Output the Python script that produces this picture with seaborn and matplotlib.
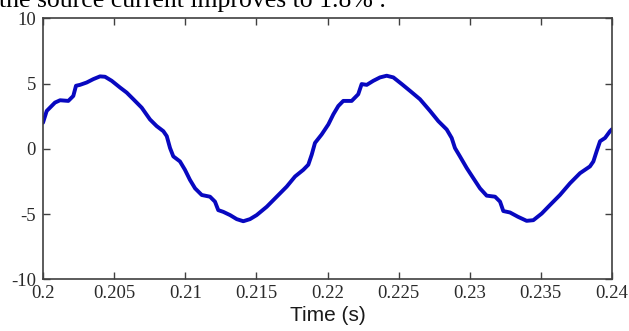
import matplotlib
matplotlib.use("Agg")
import matplotlib.pyplot as plt
import seaborn as sns
import pandas as pd

# Data (time in s, current in A)
time_s = [0.20000, 0.20026, 0.20084, 0.20120, 0.20178, 0.20213, 0.20232, 0.20260,
          0.20307, 0.20354, 0.20401, 0.20436, 0.20483, 0.20541, 0.20588, 0.20635,
          0.20694, 0.20752, 0.20799, 0.20846, 0.20870, 0.20893, 0.20916, 0.20963,
          0.20998, 0.21033, 0.21069, 0.21116, 0.21174, 0.21209, 0.21232, 0.21267,
          0.21315, 0.21362, 0.21408, 0.21455, 0.21502, 0.21573, 0.21643, 0.21713,
          0.21772, 0.21830, 0.21865, 0.21889, 0.21912, 0.21959, 0.22006, 0.22041,
          0.22076, 0.22111, 0.22170, 0.22216, 0.22240, 0.22276, 0.22322, 0.22369,
          0.22416, 0.22463, 0.22522, 0.22580, 0.22650, 0.22721, 0.22779, 0.22838,
          0.22873, 0.22896, 0.22931, 0.22979, 0.23025, 0.23072, 0.23119, 0.23178,
          0.23213, 0.23236, 0.23283, 0.23339, 0.23400, 0.23447, 0.23506, 0.23564,
          0.23634, 0.23705, 0.23775, 0.23845, 0.23869, 0.23892, 0.23916, 0.23951,
          0.23986, 0.24000]
current = [2.00, 2.90, 3.54, 3.72, 3.67, 4.05, 4.83, 4.90,
           5.08, 5.34, 5.55, 5.52, 5.21, 4.70, 4.31, 3.80,
           3.15, 2.25, 1.74, 1.35, 0.97, 0.06, -0.58, -0.97,
           -1.61, -2.38, -3.03, -3.54, -3.67, -4.05, -4.70, -4.83,
           -5.08, -5.39, -5.55, -5.39, -5.08, -4.44, -3.67, -2.90,
           -2.12, -1.61, -1.22, -0.45, 0.45, 1.10, 1.87, 2.64,
           3.28, 3.67, 3.67, 4.18, 4.96, 4.90, 5.21, 5.47,
           5.60, 5.47, 4.96, 4.44, 3.80, 2.90, 2.12, 1.48,
           0.83, 0.06, -0.58, -1.48, -2.25, -3.03, -3.59, -3.67,
           -4.05, -4.77, -4.88, -5.21, -5.52, -5.47, -4.96, -4.31,
           -3.54, -2.64, -1.87, -1.35, -0.97, -0.19, 0.58, 0.83,
           1.35, 1.50]

x_ticks = [0.2, 0.205, 0.21, 0.215, 0.22, 0.225, 0.23, 0.235, 0.24]
x_tick_labels = ["0.2", "0.205", "0.21", "0.215", "0.22", "0.225", "0.23", "0.235", "0.24"]
y_ticks = [-10, -5, 0, 5, 10]
y_tick_labels = ["-10", "-5", "0", "5", "10"]
x_label = "Time (s)"
caption = "the source current improves to 1.8% ."

sns.set_style("white")
df = pd.DataFrame({"t": time_s, "i": current})

fig = plt.figure(figsize=(6.29, 3.31), dpi=100)
ax = fig.add_axes([43 / 629, 1 - 279.3 / 331, 569 / 629, 261 / 331])

sns.lineplot(data=df, x="t", y="i", ax=ax, color="#0808c0", linewidth=2.8,
             solid_joinstyle="round", solid_capstyle="round")

ax.set_xlim(0.2, 0.24)
ax.set_ylim(-10, 10)
ax.set_xticks(x_ticks)
ax.set_xticklabels(x_tick_labels)
ax.set_yticks(y_ticks)
ax.set_yticklabels(y_tick_labels)

frame_color = "#404040"
for side in ["left", "right", "top", "bottom"]:
    ax.spines[side].set_visible(True)
    ax.spines[side].set_color(frame_color)
    ax.spines[side].set_linewidth(1.2)

ax.tick_params(axis="both", which="both", direction="in", length=5, width=1.0,
               color=frame_color, top=True, right=True, bottom=True, left=True,
               labelcolor="#2a2a2a")
for lab in ax.get_xticklabels() + ax.get_yticklabels():
    lab.set_family("Liberation Serif")
    lab.set_fontsize(13.5)
ax.tick_params(axis="x", pad=4)
ax.tick_params(axis="y", pad=5)

ax.set_xlabel(x_label, family="Liberation Sans", fontsize=15, color="#1a1a1a", labelpad=3)
ax.set_ylabel("")

fig.text(-0.002, 1 - 7 / 331, caption, family="Liberation Serif", fontsize=18.5,
         va="baseline", ha="left", color="black")

fig.savefig("out.png", dpi=100)
